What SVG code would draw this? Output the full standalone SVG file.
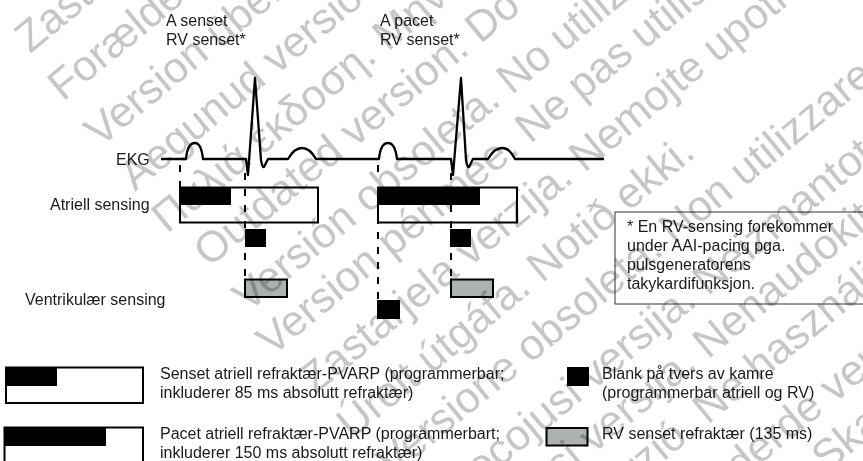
<svg xmlns="http://www.w3.org/2000/svg" width="863" height="461" viewBox="0 0 863 461">
<style>
text{font-family:"Liberation Sans",Arial,sans-serif;font-size:16px;fill:#1a1a1a}
.wm{mix-blend-mode:multiply}
.wm text{font-size:43px;fill:#c6c6c6}
.box{fill:none;stroke:#000;stroke-width:2}
.fb{fill:#000}
.gb{fill:#adb1b1;stroke:#000;stroke-width:2}
.dash{fill:none;stroke:#000;stroke-width:2;stroke-dasharray:7 9}
.ekg{fill:none;stroke:#000;stroke-width:2.300;stroke-linejoin:round}
</style>
<rect width="863" height="461" fill="#fff"/>
<g id="connectors">
<path class="ekg" d="M161 159H186C187 148 190 143 195 143C200 143 202 150 203 159H246L248 175L255 78L261 160Q263 171 265 165L268 159H288C292 152 297 148 302 148C308 148 312 152 316 159H379C380 148 383 143 388 143C393 143 396 150 397 159H451L453 175L461 78L466 160Q468 171 470 165L473 159H488C492 152 497 148 502 148C508 148 511 152 515 159H604"/>
<path class="dash" d="M180 165V187M245 173V229M245 253V279M451 173V229M451 253V279"/>
<path class="dash" style="stroke-dasharray:7 8" d="M378 165V173M378 187V300"/>
</g>
<g id="ekg-label"><text x="116" y="165">EKG</text></g>
<g id="a-sensed"><text x="166" y="26">A senset</text><text x="166" y="45">RV senset*</text></g>
<g id="a-paced"><text x="380" y="26">A pacet</text><text x="380" y="45">RV senset*</text></g>
<g id="atrial-label"><text x="50" y="210">Atriell sensing</text></g>
<g id="ventricular-label"><text x="25" y="305">Ventrikulær sensing</text></g>
<g id="atrial-sensed"><rect class="box" x="180" y="187.500" width="138" height="35"/><rect class="fb" x="180" y="187" width="51" height="18"/></g>
<g id="atrial-paced"><rect class="box" x="378" y="187.500" width="139" height="35"/><rect class="fb" x="378" y="187" width="102" height="18"/></g>
<g id="blank-1"><rect class="fb" x="245" y="229" width="21" height="18"/></g>
<g id="blank-2"><rect class="fb" x="450" y="229" width="21" height="18"/></g>
<g id="blank-3"><rect class="fb" x="377" y="300" width="23" height="19"/></g>
<g id="rv-1"><rect class="gb" x="245" y="279.500" width="42" height="17.500"/></g>
<g id="rv-2"><rect class="gb" x="451" y="279.500" width="42" height="17.500"/></g>
<g id="note">
<rect x="615" y="212" width="260" height="92" fill="none" stroke="#333" stroke-width="1"/>
<text x="627" y="232">* En RV-sensing forekommer</text>
<text x="627" y="251">under AAI-pacing pga.</text>
<text x="627" y="270">pulsgeneratorens</text>
<text x="627" y="289">takykardifunksjon.</text>
</g>
<g id="legend-sensed"><rect class="box" x="6" y="367.500" width="137" height="35.500"/><rect class="fb" x="6" y="367" width="51" height="19"/>
<text x="160" y="379">Senset atriell refraktær-PVARP (programmerbar;</text><text x="160" y="398">inkluderer 85 ms absolutt refraktær)</text></g>
<g id="legend-paced"><rect class="box" x="4.500" y="427.500" width="138.500" height="40"/><rect class="fb" x="4" y="427" width="102" height="19"/>
<text x="160" y="439">Pacet atriell refraktær-PVARP (programmerbart;</text><text x="160" y="458">inkluderer 150 ms absolutt refraktær)</text></g>
<g id="legend-blank"><rect class="fb" x="567" y="367" width="22" height="19"/>
<text x="602" y="379">Blank på tvers av kamre</text><text x="602" y="398">(programmerbar atriell og RV)</text></g>
<g id="legend-rv"><rect class="gb" x="546.500" y="428" width="41" height="17.500"/>
<text x="602" y="439">RV senset refraktær (135 ms)</text></g>
<g class="wm">
<text transform="translate(30 54) rotate(-39.500)">Zastaralá verze. Nepoužívat.</text>
<text transform="translate(63 102) rotate(-39.500)">Forældet version. Må ikke anvendes.</text>
<text transform="translate(100 148) rotate(-39.500)">Version überholt. Nicht verwenden.</text>
<text transform="translate(135 192) rotate(-39.500)">Aegunud versioon. Ärge kasutage.</text>
<text transform="translate(167 234) rotate(-39.500)">Παλιά έκδοση. Μην τη χρησιμοποιείτε.</text>
<text transform="translate(209 268) rotate(-39.500)">Outdated version. Do not use.</text>
<text transform="translate(248 313) rotate(-39.500)">Versión obsoleta. No utilizar.</text>
<text transform="translate(272 357) rotate(-39.500)">Version périmée. Ne pas utiliser.</text>
<text transform="translate(315 395) rotate(-39.500)">Zastarjela verzija. Nemojte upotrebljavati.</text>
<text transform="translate(352 440) rotate(-39.500)">Úrelt útgáfa. Notið ekki.</text>
<text transform="translate(392 478) rotate(-39.500)">Versione obsoleta. Non utilizzare.</text>
<text transform="translate(422 532) rotate(-39.500)">Novecojusi versija. Neizmantot.</text>
<text transform="translate(448 574) rotate(-39.500)">Pasenusi versija. Nenaudokite.</text>
<text transform="translate(492 603) rotate(-39.500)">Elavult verzió. Ne használja!</text>
<text transform="translate(510 671) rotate(-39.500)">Dit is een verouderde versie. Niet gebruiken.</text>
<text transform="translate(574 682) rotate(-39.500)">Utdatert versjon. Skal ikke brukes.</text>
</g>
</svg>
